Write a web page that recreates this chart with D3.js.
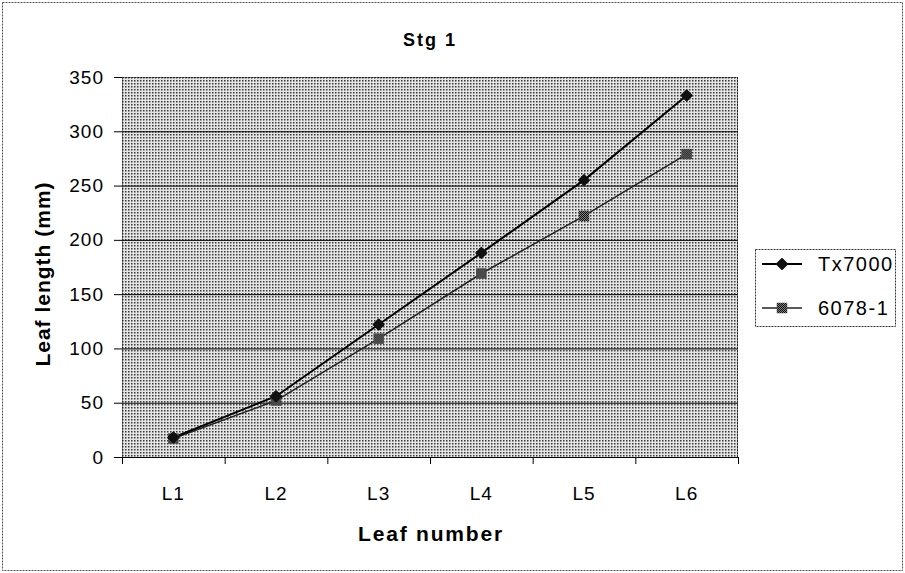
<!DOCTYPE html>
<html>
<head>
<meta charset="utf-8">
<script src="https://cdn.jsdelivr.net/npm/d3@7"></script>
<style>
  body { margin: 0; background: #fff; }
  text { font-family: "Liberation Sans", Arial, sans-serif; fill: #000; }
</style>
</head>
<body>
<svg id="chart"></svg>
<script>
// Chart data
var categories = ["L1", "L2", "L3", "L4", "L5", "L6"];
var tx7000 = [18, 56, 122, 188, 255, 333];
var line6078 = [17, 52, 109, 169, 222, 279];
var seriesNames = ["Tx7000", "6078-1"];
var yTicks = [0, 50, 100, 150, 200, 250, 300, 350];

var width = 905,
    height = 573,
    margin = {top: 77, right: 167, bottom: 116, left: 122};

var svg = d3.select("#chart")
  .attr("width", width)
  .attr("height", height);

// Dotted fill patterns, like the old spreadsheet look
var defs = svg.append("defs");
var dots = defs.append("pattern")
  .attr("id", "dots")
  .attr("width", 3).attr("height", 3)
  .attr("patternUnits", "userSpaceOnUse");
dots.append("rect").attr("width", 3).attr("height", 3).attr("fill", "#e4e4e4");
dots.append("rect").attr("width", 1.5).attr("height", 1.5).attr("fill", "#3a3a3a");

var hatch = defs.append("pattern")
  .attr("id", "hatch")
  .attr("width", 2).attr("height", 2)
  .attr("patternUnits", "userSpaceOnUse");
hatch.append("rect").attr("width", 2).attr("height", 2).attr("fill", "#808080");
hatch.append("rect").attr("width", 1).attr("height", 1).attr("fill", "#111");
hatch.append("rect").attr("x", 1).attr("y", 1).attr("width", 1).attr("height", 1).attr("fill", "#111");

// Outer border
svg.append("rect")
  .attr("x", 2.5).attr("y", 2.5)
  .attr("width", width - 5).attr("height", height - 5)
  .attr("fill", "none")
  .attr("stroke", "#555")
  .attr("stroke-dasharray", "2,1");

var innerW = width - margin.left - margin.right,
    innerH = height - margin.top - margin.bottom;

var g = svg.append("g")
  .attr("transform", "translate(" + margin.left + "," + margin.top + ")");

var x = d3.scaleBand()
  .domain(categories)
  .range([0, innerW]);

var y = d3.scaleLinear()
  .domain([0, 350])
  .range([innerH, 0]);

// Plot background
g.append("rect")
  .attr("width", innerW)
  .attr("height", innerH)
  .attr("fill", "url(#dots)");

// Gridlines
g.selectAll(".grid")
  .data(yTicks.filter(function(d) { return d > 0 && d < 350; }))
  .enter().append("line")
  .attr("x1", 0).attr("x2", innerW)
  .attr("y1", function(d) { return y(d) + 0.5; })
  .attr("y2", function(d) { return y(d) + 0.5; })
  .attr("stroke", "#000")
  .attr("stroke-width", 1);

// Plot border (dotted top/right/left)
g.append("rect")
  .attr("x", 0.5).attr("y", 0.5)
  .attr("width", innerW - 1).attr("height", innerH)
  .attr("fill", "none")
  .attr("stroke", "#222")
  .attr("stroke-dasharray", "2,1");

// Y axis
var yAxis = g.append("g")
  .call(d3.axisLeft(y).tickValues(yTicks).tickSize(8).tickPadding(10));
yAxis.select(".domain").remove();
yAxis.selectAll("text").style("font-size", "19px").style("letter-spacing", "1px");
yAxis.selectAll("line").attr("stroke", "#000");

// X axis, ticks on the band edges
var xAxis = g.append("g")
  .attr("transform", "translate(0," + innerH + ")");
xAxis.append("line")
  .attr("x1", 0).attr("x2", innerW)
  .attr("y1", 0.5).attr("y2", 0.5)
  .attr("stroke", "#000");
xAxis.selectAll(".edge")
  .data(categories.concat(["end"]))
  .enter().append("line")
  .attr("x1", function(d, i) { return i * x.step() + 0.5; })
  .attr("x2", function(d, i) { return i * x.step() + 0.5; })
  .attr("y1", 0).attr("y2", 7)
  .attr("stroke", "#000");
xAxis.selectAll(".lbl")
  .data(categories)
  .enter().append("text")
  .attr("x", function(d) { return x(d) + x.bandwidth() / 2; })
  .attr("y", 43)
  .style("text-anchor", "middle")
  .style("font-size", "19px")
  .style("letter-spacing", "1px")
  .text(function(d) { return d; });

// Lines
var line = d3.line()
  .x(function(d, i) { return x(categories[i]) + x.bandwidth() / 2; })
  .y(function(d) { return y(d); });

g.append("path")
  .datum(line6078)
  .attr("d", line)
  .attr("fill", "none")
  .attr("stroke", "#222")
  .attr("stroke-width", 1.5);

g.append("path")
  .datum(tx7000)
  .attr("d", line)
  .attr("fill", "none")
  .attr("stroke", "#000")
  .attr("stroke-width", 2);

// Markers: a squat diamond (rotated square) and a hatched square
var diamond = d3.symbol().type(d3.symbolSquare).size(50);
var square = d3.symbol().type(d3.symbolSquare).size(110);

g.selectAll(".m2")
  .data(line6078)
  .enter().append("path")
  .attr("d", square)
  .attr("transform", function(d, i) {
    return "translate(" + (x(categories[i]) + x.bandwidth() / 2) + "," + y(d) + ")";
  })
  .attr("fill", "url(#hatch)");

g.selectAll(".m1")
  .data(tx7000)
  .enter().append("path")
  .attr("d", diamond)
  .attr("transform", function(d, i) {
    return "translate(" + (x(categories[i]) + x.bandwidth() / 2) + "," + y(d) + ") rotate(45)";
  })
  .attr("fill", "#111")
  .attr("stroke", "#111")
  .attr("stroke-width", 2)
  .attr("stroke-linejoin", "round");

// Title and axis labels
svg.append("text")
  .attr("x", 430).attr("y", 46)
  .style("text-anchor", "middle")
  .style("font-weight", "bold")
  .style("font-size", "18px")
  .style("letter-spacing", "2px")
  .text("Stg 1");

svg.append("text")
  .attr("transform", "translate(50,274) rotate(-90)")
  .style("text-anchor", "middle")
  .style("font-weight", "bold")
  .style("font-size", "21px")
  .style("letter-spacing", "1px")
  .text("Leaf length (mm)");

svg.append("text")
  .attr("x", 431).attr("y", 541)
  .style("text-anchor", "middle")
  .style("font-weight", "bold")
  .style("font-size", "21px")
  .style("letter-spacing", "1.8px")
  .text("Leaf number");

// Legend
var legend = svg.append("g");
legend.append("rect")
  .attr("x", 755.5).attr("y", 249.5)
  .attr("width", 140).attr("height", 77)
  .attr("fill", "#fff")
  .attr("stroke", "#333")
  .attr("stroke-dasharray", "2,1");

var legendRows = legend.selectAll(".row")
  .data(seriesNames)
  .enter().append("g")
  .attr("transform", function(d, i) { return "translate(762," + (264 + i * 44) + ")"; });

legendRows.append("line")
  .attr("x1", 0).attr("x2", 40)
  .attr("stroke", function(d, i) { return i === 0 ? "#000" : "#222"; })
  .attr("stroke-width", function(d, i) { return i === 0 ? 2 : 1.5; });

legendRows.append("path")
  .attr("transform", function(d, i) { return i === 0 ? "translate(20,0) rotate(45)" : "translate(20,0)"; })
  .attr("d", function(d, i) { return i === 0 ? diamond() : square(); })
  .attr("fill", function(d, i) { return i === 0 ? "#111" : "url(#hatch)"; })
  .attr("stroke", function(d, i) { return i === 0 ? "#111" : "none"; })
  .attr("stroke-width", 2)
  .attr("stroke-linejoin", "round");

legendRows.append("text")
  .attr("x", 56).attr("y", 7)
  .style("font-size", "20px")
  .style("letter-spacing", "1.5px")
  .text(function(d) { return d; });
</script>
</body>
</html>
